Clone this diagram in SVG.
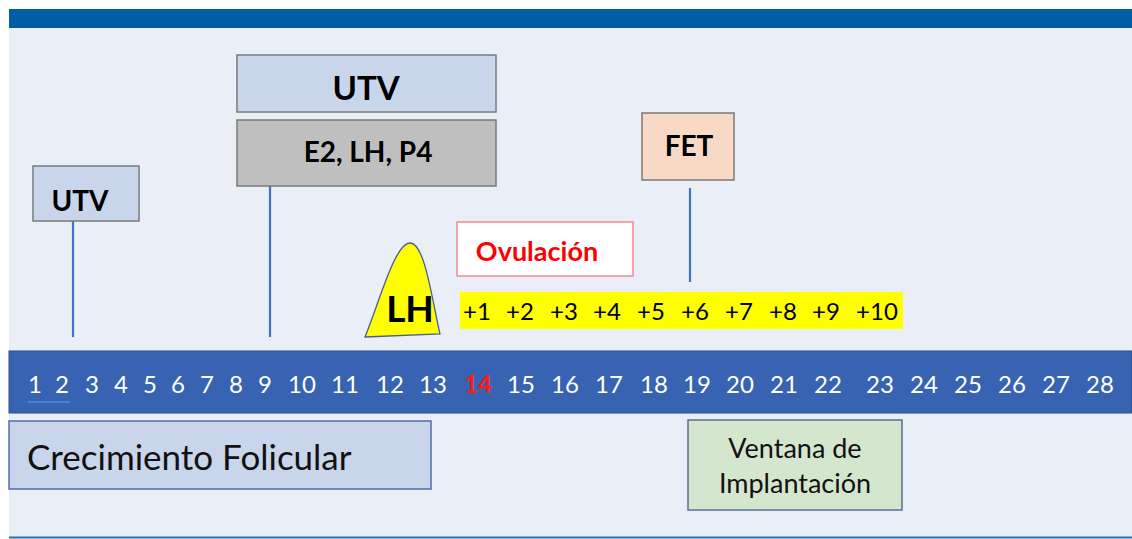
<svg xmlns="http://www.w3.org/2000/svg" width="1132" height="539" viewBox="0 0 1132 539">
<style>
.t{font-family:Lato,"Open Sans","Liberation Sans",sans-serif;}
.b{font-weight:bold;}
.box{stroke:#7a7a7a;stroke-width:1.5;}
.conn{stroke:#4472C4;stroke-width:2.2;fill:none;}
.day{fill:#ffffff;font-size:24px;text-anchor:middle;}
.plus{fill:#000;font-size:24px;text-anchor:middle;}
</style>
<rect x="0" y="0" width="1132" height="539" fill="#ffffff"/>
<rect x="9" y="28" width="1123" height="509" fill="#EAEEF7"/>
<rect x="9" y="9" width="1123" height="19" fill="#005EA8"/>
<line x1="9" y1="537.5" x2="1132" y2="537.5" stroke="#1F6FBF" stroke-width="2"/>

<g id="connectors">
<line class="conn" x1="73" y1="221" x2="73" y2="337"/>
<line class="conn" x1="270" y1="186" x2="270" y2="337"/>
<line class="conn" x1="690" y1="188" x2="690" y2="282"/>
</g>

<g id="utv-small">
<rect class="box" x="33" y="166" width="106" height="55" fill="#C9D5EA"/>
<text class="t b" x="80" y="211" font-size="28" text-anchor="middle">UTV</text>
</g>

<g id="utv-big">
<rect class="box" x="237" y="55" width="259" height="57" fill="#C9D5EA"/>
<text class="t b" x="366" y="100" font-size="33" text-anchor="middle">UTV</text>
</g>

<g id="hormones">
<rect class="box" x="237" y="120" width="259" height="66" fill="#BFBFBF"/>
<text class="t b" x="368" y="162" font-size="28" text-anchor="middle">E2, LH, P4</text>
</g>

<g id="fet">
<rect class="box" x="642" y="113" width="92" height="67" fill="#F8D9C6"/>
<text class="t b" x="689" y="156" font-size="28" text-anchor="middle">FET</text>
</g>

<g id="ovulacion">
<rect x="457" y="222" width="176" height="54" fill="#ffffff" stroke="#F08A8A" stroke-width="1.5"/>
<text class="t b" x="537" y="261" font-size="27" fill="#FF0000" text-anchor="middle">Ovulación</text>
</g>

<g id="lh-peak">
<path d="M365,337 C380,300 395,243 410,243 C425,243 432,300 440,334 Z" fill="#FFFF00" stroke="#4A5A9A" stroke-width="1.3"/>
<text class="t b" x="410" y="322" font-size="37" text-anchor="middle">LH</text>
</g>

<g id="days-after">
<rect x="460" y="292" width="443" height="37" fill="#FFFF00"/>
<text class="t plus" x="477" y="320">+1</text>
<text class="t plus" x="520" y="320">+2</text>
<text class="t plus" x="564" y="320">+3</text>
<text class="t plus" x="607" y="320">+4</text>
<text class="t plus" x="651" y="320">+5</text>
<text class="t plus" x="695" y="320">+6</text>
<text class="t plus" x="739" y="320">+7</text>
<text class="t plus" x="783" y="320">+8</text>
<text class="t plus" x="826" y="320">+9</text>
<text class="t plus" x="877" y="320">+10</text>
</g>

<g id="cycle-bar">
<rect x="9" y="351" width="1123" height="62" fill="#3763B2" stroke="#2B4C8C" stroke-width="1"/>
<line x1="28" y1="402" x2="70" y2="402" stroke="#4A8BE8" stroke-width="1.5"/>
<text class="t day" x="35" y="393">1</text>
<text class="t day" x="62" y="393">2</text>
<text class="t day" x="92" y="393">3</text>
<text class="t day" x="121" y="393">4</text>
<text class="t day" x="150" y="393">5</text>
<text class="t day" x="178" y="393">6</text>
<text class="t day" x="207" y="393">7</text>
<text class="t day" x="236" y="393">8</text>
<text class="t day" x="265" y="393">9</text>
<text class="t day" x="302" y="393">10</text>
<text class="t day" x="345" y="393">11</text>
<text class="t day" x="390" y="393">12</text>
<text class="t day" x="433" y="393">13</text>
<text class="t day b" x="478" y="393" style="fill:#FF1A1A">14</text>
<text class="t day" x="521" y="393">15</text>
<text class="t day" x="565" y="393">16</text>
<text class="t day" x="609" y="393">17</text>
<text class="t day" x="654" y="393">18</text>
<text class="t day" x="697" y="393">19</text>
<text class="t day" x="740" y="393">20</text>
<text class="t day" x="784" y="393">21</text>
<text class="t day" x="828" y="393">22</text>
<text class="t day" x="880" y="393">23</text>
<text class="t day" x="924" y="393">24</text>
<text class="t day" x="968" y="393">25</text>
<text class="t day" x="1012" y="393">26</text>
<text class="t day" x="1056" y="393">27</text>
<text class="t day" x="1100" y="393">28</text>
</g>

<g id="crecimiento">
<rect x="9" y="421" width="422" height="68" fill="#C9D5EA" stroke="#4F6FA8" stroke-width="1.5"/>
<text class="t" x="27" y="470" font-size="35" fill="#111">Crecimiento Folicular</text>
</g>

<g id="ventana">
<rect x="688" y="420" width="214" height="90" fill="#D5E6CF" stroke="#5A6F95" stroke-width="1.5"/>
<text class="t" x="795" y="458" font-size="27" fill="#111" text-anchor="middle">Ventana de</text>
<text class="t" x="795" y="493" font-size="27" fill="#111" text-anchor="middle">Implantación</text>
</g>
</svg>
